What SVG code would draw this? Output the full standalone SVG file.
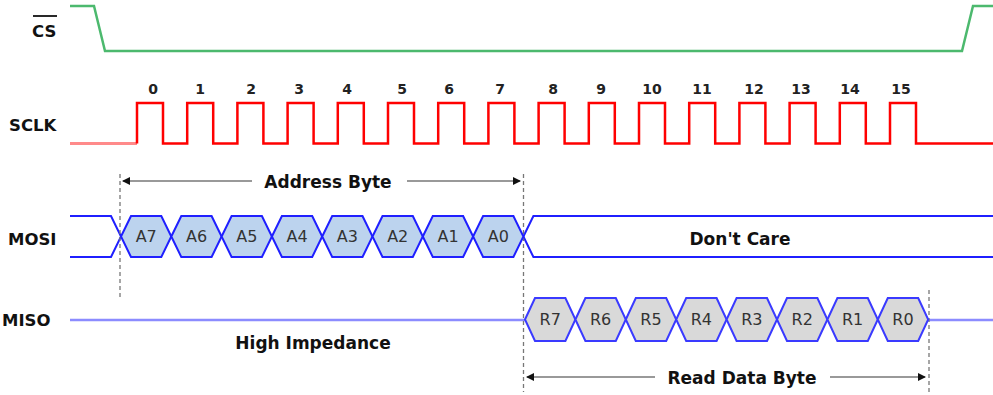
<svg xmlns="http://www.w3.org/2000/svg" width="993" height="395" viewBox="0 0 993 395">
<defs>
<style>
.lbl{font-family:"DejaVu Sans",sans-serif;font-weight:bold;font-size:16.5px;fill:#111}
.num{font-family:"DejaVu Sans",sans-serif;font-weight:bold;font-size:14px;fill:#222;text-anchor:middle}
.txt{font-family:"DejaVu Sans",sans-serif;font-weight:bold;font-size:17px;fill:#111;text-anchor:middle}
.hx{font-family:"DejaVu Sans",sans-serif;font-size:16px;fill:#333;text-anchor:middle}
.mosi{fill:#bcd3ee;stroke:#1f1fff;stroke-width:2}
.miso{fill:#d9d9d9;stroke:#3a3aff;stroke-width:2}
.dash{stroke:#777;stroke-width:1.3;stroke-dasharray:4,3;fill:none}
.dim{stroke:#999;stroke-width:2;fill:none}
</style>
<marker id="ah" markerWidth="8" markerHeight="8" refX="7" refY="4" orient="auto-start-reverse" markerUnits="userSpaceOnUse">
<path d="M0,0 L8,4 L0,8 Z" fill="#111"/>
</marker>
</defs>
<rect width="993" height="395" fill="#fff"/>
<g id="labels">
<text class="lbl" x="32" y="37">CS</text>
<line x1="33" y1="16" x2="57" y2="16" stroke="#111" stroke-width="1.8"/>
<text class="lbl" x="9" y="131">SCLK</text>
<text class="lbl" x="8" y="245">MOSI</text>
<text class="lbl" x="2" y="326">MISO</text>
</g>
<g id="connectors">
<polyline id="cs-wave" points="70,6 94,6 105,51 962,51 973,6 993,6" fill="none" stroke="#4cb96e" stroke-width="2.5"/>
<line x1="70" y1="143.5" x2="137" y2="143.5" stroke="#ff8a8a" stroke-width="3"/>
<polyline id="sclk-wave" fill="none" stroke="#ff0000" stroke-width="2.5" points="137,143.5 137,103 163,103 163,143.5 187.2,143.5 187.2,103 213.2,103 213.2,143.5 237.4,143.5 237.4,103 263.4,103 263.4,143.5 287.6,143.5 287.6,103 313.6,103 313.6,143.5 337.8,143.5 337.8,103 363.8,103 363.8,143.5 388,143.5 388,103 414,103 414,143.5 438.2,143.5 438.2,103 464.2,103 464.2,143.5 488.4,143.5 488.4,103 514.4,103 514.4,143.5 538.6,143.5 538.6,103 564.6,103 564.6,143.5 588.8,143.5 588.8,103 614.8,103 614.8,143.5 639,143.5 639,103 665,103 665,143.5 689.2,143.5 689.2,103 715.2,103 715.2,143.5 739.4,143.5 739.4,103 765.4,103 765.4,143.5 789.6,143.5 789.6,103 815.6,103 815.6,143.5 839.8,143.5 839.8,103 865.8,103 865.8,143.5 890,143.5 890,103 916,103 916,143.5 993,143.5"/>
<polyline points="70,216 111,216 121,236.5 111,257 70,257" fill="none" stroke="#1f1fff" stroke-width="2"/>
<polyline points="993,216 533.4,216 523.4,236.5 533.4,257 993,257" fill="none" stroke="#1f1fff" stroke-width="2"/>
<line x1="70" y1="320" x2="525" y2="320" stroke="#8c8cff" stroke-width="2.5"/>
<line x1="928" y1="320" x2="993" y2="320" stroke="#8c8cff" stroke-width="2.5"/>
<line class="dash" x1="120" y1="174" x2="120" y2="298"/>
<line class="dash" x1="523.5" y1="174" x2="523.5" y2="392"/>
<line class="dash" x1="929" y1="290" x2="929" y2="395"/>
<line class="dim" x1="252" y1="181" x2="123" y2="181" marker-end="url(#ah)"/>
<line class="dim" x1="407" y1="181" x2="520" y2="181" marker-end="url(#ah)"/>
<line class="dim" x1="655" y1="377" x2="527" y2="377" marker-end="url(#ah)"/>
<line class="dim" x1="830" y1="377" x2="925" y2="377" marker-end="url(#ah)"/>
</g>
<g id="clock-numbers">
<text class="num" x="153" y="94">0</text>
<text class="num" x="200" y="94">1</text>
<text class="num" x="251" y="94">2</text>
<text class="num" x="299" y="94">3</text>
<text class="num" x="347" y="94">4</text>
<text class="num" x="402" y="94">5</text>
<text class="num" x="449" y="94">6</text>
<text class="num" x="500" y="94">7</text>
<text class="num" x="553" y="94">8</text>
<text class="num" x="601" y="94">9</text>
<text class="num" x="652" y="94">10</text>
<text class="num" x="702" y="94">11</text>
<text class="num" x="754" y="94">12</text>
<text class="num" x="801" y="94">13</text>
<text class="num" x="850" y="94">14</text>
<text class="num" x="901" y="94">15</text>
</g>
<g id="address-byte"><text class="txt" x="328" y="188">Address Byte</text></g>
<g id="mosi-bits">
<g id="A7"><polygon class="mosi" points="121,236.5 131,216 161.3,216 171.3,236.5 161.3,257 131,257"/><text class="hx" x="146.2" y="242">A7</text></g>
<g id="A6"><polygon class="mosi" points="171.3,236.5 181.3,216 211.6,216 221.6,236.5 211.6,257 181.3,257"/><text class="hx" x="196.5" y="242">A6</text></g>
<g id="A5"><polygon class="mosi" points="221.6,236.5 231.6,216 261.9,216 271.9,236.5 261.9,257 231.6,257"/><text class="hx" x="246.8" y="242">A5</text></g>
<g id="A4"><polygon class="mosi" points="271.9,236.5 281.9,216 312.2,216 322.2,236.5 312.2,257 281.9,257"/><text class="hx" x="297.1" y="242">A4</text></g>
<g id="A3"><polygon class="mosi" points="322.2,236.5 332.2,216 362.5,216 372.5,236.5 362.5,257 332.2,257"/><text class="hx" x="347.4" y="242">A3</text></g>
<g id="A2"><polygon class="mosi" points="372.5,236.5 382.5,216 412.8,216 422.8,236.5 412.8,257 382.5,257"/><text class="hx" x="397.7" y="242">A2</text></g>
<g id="A1"><polygon class="mosi" points="422.8,236.5 432.8,216 463.1,216 473.1,236.5 463.1,257 432.8,257"/><text class="hx" x="448" y="242">A1</text></g>
<g id="A0"><polygon class="mosi" points="473.1,236.5 483.1,216 513.4,216 523.4,236.5 513.4,257 483.1,257"/><text class="hx" x="498.3" y="242">A0</text></g>
</g>
<g id="dont-care"><text class="txt" x="740" y="245">Don't Care</text></g>
<g id="miso-bits">
<g id="R7"><polygon class="miso" points="525,319.5 535,298 565.4,298 575.4,319.5 565.4,341 535,341"/><text class="hx" x="550.2" y="325">R7</text></g>
<g id="R6"><polygon class="miso" points="575.4,319.5 585.4,298 615.8,298 625.8,319.5 615.8,341 585.4,341"/><text class="hx" x="600.6" y="325">R6</text></g>
<g id="R5"><polygon class="miso" points="625.8,319.5 635.8,298 666.2,298 676.2,319.5 666.2,341 635.8,341"/><text class="hx" x="651" y="325">R5</text></g>
<g id="R4"><polygon class="miso" points="676.2,319.5 686.2,298 716.6,298 726.6,319.5 716.6,341 686.2,341"/><text class="hx" x="701.4" y="325">R4</text></g>
<g id="R3"><polygon class="miso" points="726.6,319.5 736.6,298 767,298 777,319.5 767,341 736.6,341"/><text class="hx" x="751.8" y="325">R3</text></g>
<g id="R2"><polygon class="miso" points="777,319.5 787,298 817.4,298 827.4,319.5 817.4,341 787,341"/><text class="hx" x="802.2" y="325">R2</text></g>
<g id="R1"><polygon class="miso" points="827.4,319.5 837.4,298 867.8,298 877.8,319.5 867.8,341 837.4,341"/><text class="hx" x="852.6" y="325">R1</text></g>
<g id="R0"><polygon class="miso" points="877.8,319.5 887.8,298 918.2,298 928.2,319.5 918.2,341 887.8,341"/><text class="hx" x="903" y="325">R0</text></g>
</g>
<g id="high-impedance"><text class="txt" x="313" y="349">High Impedance</text></g>
<g id="read-data-byte"><text class="txt" x="742" y="384">Read Data Byte</text></g>
</svg>
